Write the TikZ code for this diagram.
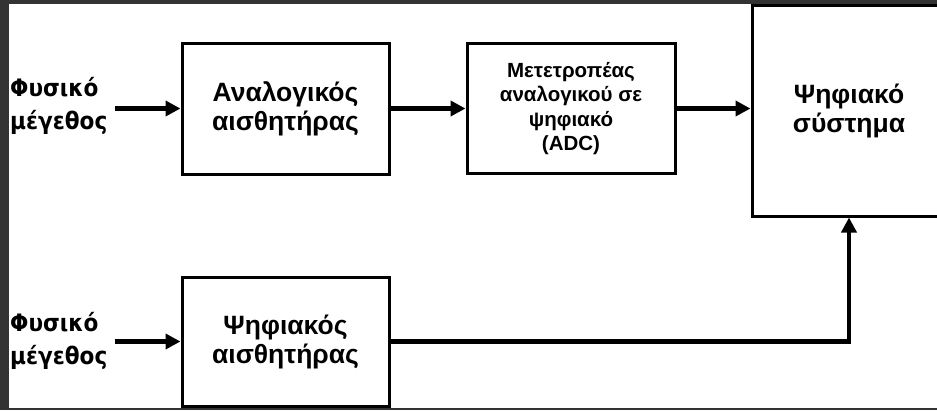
\documentclass[tikz,border=0pt]{standalone}
\usepackage{fontspec}
\setmainfont{Liberation Sans}
\newfontfamily\lblfont[FakeStretch=0.9]{DejaVu Sans}
\usetikzlibrary{arrows.meta}
\definecolor{frame}{HTML}{333333}
\tikzset{
  blk/.style={draw=black, line width=3pt, fill=white, align=center, inner sep=0pt,
    font=\bfseries\fontsize{26.5}{29}\selectfont},
  smallblk/.style={blk, font=\bfseries\fontsize{20.5}{24.5}\selectfont},
  conn/.style={line width=4.5pt, -{Triangle[length=15pt,width=15pt]}},
  lbl/.style={align=left, inner sep=0pt, anchor=west,
    font=\lblfont\bfseries\fontsize{24}{33}\selectfont}
}
\begin{document}
\begin{tikzpicture}[x=1pt,y=-1pt]
\useasboundingbox (0,0) rectangle (937,410);
\fill[white] (0,0) rectangle (937,410);
% boxes
\node[blk, minimum width=207pt, minimum height=131pt] (ana) at (285.5,108.5) {Αναλογικός\\αισθητήρας};
\node[smallblk, minimum width=208pt, minimum height=130pt] (adc) at (571,108.5) {Μετετροπέας\\αναλογικού σε\\ψηφιακό\\(ADC)};
\node[blk, minimum width=194pt, minimum height=211pt] (sys) at (849,110.5) {Ψηφιακό\\σύστημα};
\node[blk, minimum width=207pt, minimum height=129pt] (dig) at (285.5,341.5) {Ψηφιακός\\αισθητήρας};
% labels
\node[lbl] (in1) at (10,106) {Φυσικό\\μέγεθος};
\node[lbl] (in2) at (10,341) {Φυσικό\\μέγεθος};
\coordinate (s1) at (115,108.5);
\coordinate (s2) at (115,341.5);
% connectors
\draw[conn] (s1) -- (ana.west);
\draw[conn] (s2) -- (dig.west);
\draw[conn] (ana.east) -- (adc.west);
\draw[conn] (adc.east) -- (sys.west |- adc.east);
\draw[conn] (dig.east) -| (sys.south);
% dark frame
\fill[frame] (0,0) rectangle (9,410);
\fill[frame] (0,0) rectangle (937,3.5);
\fill[frame] (0,407.5) rectangle (937,410);
\end{tikzpicture}
\end{document}
